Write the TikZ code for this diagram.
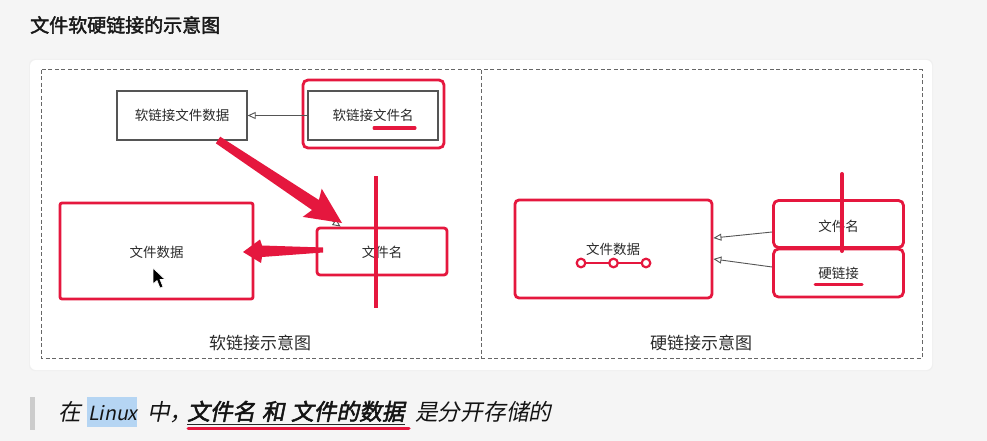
\documentclass[tikz,border=0pt]{standalone}
\usepackage{fontspec}
\setmainfont{Noto Sans CJK SC}[AutoFakeBold=2.2, AutoFakeSlant=0.2]
\usetikzlibrary{arrows.meta,calc}
\definecolor{mkred}{HTML}{E5173E}
\definecolor{txt}{HTML}{2A2A2A}
\definecolor{boxgray}{HTML}{555555}
\definecolor{bg}{HTML}{F5F5F5}
\definecolor{hl}{HTML}{B5D5F3}
\tikzset{
  lbl/.style={font=\fontsize{13.5}{16}\selectfont, text=txt},
  graybox/.style={draw=boxgray, line width=1.3pt, minimum width=130pt, minimum height=49pt, inner sep=0pt, lbl},
  redbox/.style={draw=mkred, line width=2.8pt, rounded corners=3pt, inner sep=0pt, lbl},
  conn/.style={draw=boxgray, line width=0.9pt, -{Triangle[open,length=8pt,width=7pt]}},
  redmark/.style={draw=mkred, line width=3pt, line cap=round},
  caption/.style={font=\fontsize{17}{20}\selectfont, text=txt},
  btxt/.style={anchor=base west, inner sep=0pt, text=black!92, font=\fontsize{22.7}{26}\selectfont\itshape},
}
\begin{document}
\begin{tikzpicture}[x=1pt,y=-1pt]
\useasboundingbox (0,0) rectangle (987,441);
\fill[bg] (0,0) rectangle (987,441);
% panel
\fill[black!6, rounded corners=6pt] (29,59) rectangle (933,371);
\fill[white, rounded corners=6pt] (30,60) rectangle (932,370);
\node[anchor=west, inner sep=0pt, font=\fontsize{19}{22}\selectfont\bfseries, text=black!90] (title) at (30,25) {文件软硬链接的示意图};
% dashed frames
\draw[black!60, line width=1pt, dash pattern=on 4pt off 2.5pt] (41,70) rectangle (922,358);
\draw[black!60, line width=1pt, dash pattern=on 4pt off 2.5pt] (481,70) -- (481,358);

% ===== soft link =====
\node[graybox] (sdata) at (182,115.5) {软链接文件数据};
\node[graybox] (sname) at (373,115.5) {软链接文件名};
\node[draw=mkred, line width=2.8pt, rounded corners=5pt, minimum width=141pt, minimum height=68pt, inner sep=0pt] (snamemark) at (373.5,114) {};
\draw[redmark] (374,128) -- (415,128);
\draw[conn] (sname.west) -- (sdata.east);

\node[redbox, rounded corners=2pt, minimum width=193pt, minimum height=96pt] (sfdata) at (156.5,251) {};
\node[lbl] at (156.5,252) {文件数据};
\node[redbox, minimum width=130pt, minimum height=47pt] (sfname) at (382,251.5) {};
\node[lbl] at (382,252) {文件名};

% hidden gray connector under the red arrow
\coordinate (c1) at ($(sdata.south)+(36,0)$);
\coordinate (c2) at ($(sfname.north west)+(25,0)$);
\draw[conn] (c1) -- (c2);

% red thick arrow 1
\fill[mkred] (220.2,136.7) -- (318.9,200) -- (321.7,188.7) -- (342,223) -- (302.7,216.9) -- (312.1,210) -- (215.8,143.3) -- cycle;
% red vertical mark
\draw[redmark, line width=4pt, line cap=butt] (376,176) -- (376,308);
% red arrow 2
\fill[mkred] (323,247.5) -- (262,245.5) -- (260,239.5) -- (243,252) -- (261,263) -- (262,257) -- (323,252.5) -- cycle;
% cursor
\filldraw[fill=black, draw=white, line width=0.6pt] (153,268) -- (153,284) -- (157,280.5) -- (160,288) -- (163,286.8) -- (160,279.5) -- (165,279.5) -- cycle;

\node[caption] (scap) at (260,343) {软链接示意图};

% ===== hard link =====
\node[redbox, rounded corners=4pt, minimum width=197pt, minimum height=98pt] (hdata) at (613.5,249) {};
\node[lbl] (hdatatxt) at (613,249) {文件数据};
\draw[draw=mkred, line width=2.5pt] (581,263) -- (646,263);
\foreach \xx in {581,613.5,646}
  \filldraw[fill=white, draw=mkred, line width=2.2pt] (\xx,263) circle (4.3pt);

\node[redbox, rounded corners=5pt, minimum width=130pt, minimum height=47pt] (hname) at (838.5,224) {};
\node[lbl] at (838.5,226) {文件名};
\node[redbox, rounded corners=5pt, minimum width=130pt, minimum height=48pt] (hlink) at (838.5,273) {};
\node[lbl] at (838.5,273) {硬链接};
\draw[redmark] (815,284) -- (862,284);

\coordinate (h1) at ($(hname.west)+(0,8)$);
\coordinate (h2) at ($(hdata.east)+(0,-11)$);
\coordinate (h3) at ($(hlink.west)+(0,-6)$);
\coordinate (h4) at ($(hdata.east)+(0,10)$);
\draw[conn] (h1) -- (h2);
\draw[conn] (h3) -- (h4);
\draw[redmark, line width=4pt] (842,174) -- (842,251);

\node[caption] (hcap) at (701,343) {硬链接示意图};

% ===== bottom sentence =====
\fill[black!20] (30,397) rectangle (35,430);
\fill[hl] (87,397) rectangle (137,427);
\node[btxt] (b1) at (58,420) {在};
\node[btxt, font=\fontsize{19.5}{24}\selectfont\itshape] (b2) at (88,420) {Linux};
\node[btxt] (b3) at (147,420) {中，};
\node[btxt, font=\fontsize{22.7}{26}\selectfont\bfseries\itshape] (b4) at (187,420) {文件名\hspace{6.5pt}和\hspace{6.5pt}文件的数据};
\node[btxt] (b5) at (415,420) {是分开存储的};
\draw[black!85, line width=0.8pt] ($(b4.base west)+(0,4)$) -- ($(b4.base east)+(0,4)$);
\draw[redmark, line width=3pt] (188,428.5) -- (409,428.5);
\end{tikzpicture}
\end{document}
